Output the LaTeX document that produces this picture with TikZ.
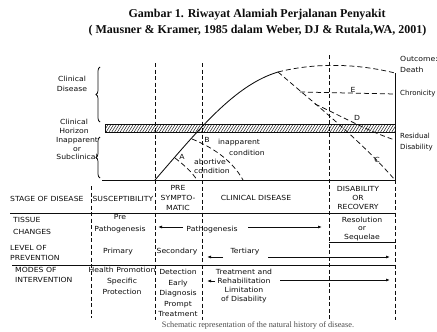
\documentclass[tikz,border=0pt]{standalone}
\usepackage{fontspec}
\setmainfont{Liberation Serif}
\newfontfamily\labfont[FakeStretch=1.1]{DejaVu Sans}
\newfontfamily\labfontn{DejaVu Sans}
\usetikzlibrary{arrows.meta,decorations.pathreplacing}
\definecolor{ink}{gray}{0.05}
\definecolor{capgray}{gray}{0.3}
\begin{document}
\begin{tikzpicture}[x=1pt,y=-1pt,
 lab/.style={font=\labfont\fontsize{7}{10}\selectfont, inner sep=0pt, align=center, text=ink},
 labl/.style={lab, anchor=west, align=left},
 vdash/.style={draw=ink, line width=0.75pt, dash pattern=on 4pt off 2.5pt},
 curvedash/.style={draw=ink, line width=0.75pt, dash pattern=on 5pt off 3pt},
 rule/.style={draw=ink, line width=0.9pt},
 curve/.style={draw=ink, line width=0.85pt},
 arr/.style={draw=ink, line width=0.75pt, -{Latex[length=4pt,width=3pt]}},
 brc/.style={draw=ink, line width=0.75pt, decorate, decoration={brace,amplitude=4pt}},
 titlefont/.style={font=\bfseries\fontsize{12}{15}\selectfont, inner sep=0pt, text=ink},
]
\useasboundingbox[fill=white] (0,0) rectangle (437,332);

% title
\node[titlefont] (t1) at (257,15) {Gambar 1. Riwayat Alamiah Perjalanan Penyakit};
\node[titlefont] (t2) at (257.5,31) {( Mausner \& Kramer, 1985 dalam Weber, DJ \& Rutala,WA, 2001)};

% left labels
\node[lab] (cd) at (72,84) {Clinical\\Disease};
\node[lab, font=\labfont\fontsize{7}{9}\selectfont] (ch) at (74,126.5) {Clinical\\Horizon};
\node[lab, font=\labfont\fontsize{7}{8.5}\selectfont] (is) at (77,148.5) {Inapparent\\or\\Subclinical};
\draw[brc] (100,122) -- (100,67);
\draw[brc] (100,178) -- (100,137);

% hatched horizon bar
\begin{scope}
\clip (105,124) rectangle (395,132);
\foreach \x in {95,97.8,...,400} \draw[ink, line width=0.45pt] (\x,132) -- (\x+5,124);
\end{scope}
\draw[ink, line width=0.6pt] (105,124) rectangle (395,132);

% vertical dashed lines
\draw[vdash] (155,63) -- (155,320);
\draw[vdash] (202,63) -- (202,320);
\draw[vdash] (329,55) -- (329,320);
\draw[vdash] (91,186) -- (91,318);
\draw[vdash] (395,180) -- (395,320);

% curves
\draw[curve] (155,180) .. controls (200,128) and (235,85) .. (278,72);
\draw[curvedash] (278,72) .. controls (310,64) and (350,62) .. (395,73);
\draw[curvedash] (278,72) .. controls (320,108) and (360,140) .. (395,180);
\draw[curvedash] (300,92) -- (395,94);
\draw[curvedash] (315,104) .. controls (345,118) and (370,132) .. (395,140);
\draw[curve] (395,73) -- (395,180);
\draw[curvedash] (175,158) .. controls (184,165) and (192,172) .. (197,180);
\draw[curvedash] (192,139) .. controls (212,147) and (232,160) .. (243,180);

% curve labels
\node[lab] (le) at (353,90) {E};
\node[lab] (ld) at (357,118) {D};
\node[lab] (lc) at (377,160) {C};
\node[lab] (lb) at (207,140) {B};
\node[lab] (la) at (182,157) {A};
\node[lab] (ia) at (239,143) {inapparent};
\node[lab] (ic) at (247,153) {condition};
\node[lab] (ab) at (210,162) {abortive};
\node[lab] (ac) at (212,171) {condition};

% right labels
\node[labl] (oc) at (400,59) {Outcome:};
\node[labl] (de) at (400,70) {Death};
\node[labl, font=\labfontn\fontsize{7}{10}\selectfont] (chr) at (400,94) {Chronicity};
\node[labl, font=\labfontn\fontsize{7}{11}\selectfont] (rd) at (400,142.5) {Residual\\Disability};

% horizontal rules
\draw[rule] (102,180) -- (395,180);
\draw[rule] (10,213) -- (395,213);
\draw[rule] (329,242) -- (395,242);
\draw[rule] (12,265) -- (395,265);

% row 1
\node[labl] (r1) at (10,199) {STAGE OF DISEASE};
\node[lab] (sus) at (123,199) {SUSCEPTIBILITY};
\node[lab] (pre) at (178,198) {PRE\\SYMPTO-\\MATIC};
\node[lab] (cli) at (256,198) {CLINICAL DISEASE};
\node[lab, font=\labfont\fontsize{7}{9}\selectfont] (dis) at (358,198) {DISABILITY\\OR\\RECOVERY};

% row 2
\node[labl, font=\labfont\fontsize{7}{12}\selectfont] (r2) at (13,226) {TISSUE\\CHANGES};
\node[lab, font=\labfont\fontsize{7}{12}\selectfont] (pp) at (120,224) {Pre\\Pathogenesis};
\node[lab] (pat) at (212,230) {Pathogenesis};
\node[lab, font=\labfont\fontsize{7}{8.5}\selectfont] (res) at (362,229) {Resolution\\or\\Sequelae};
\coordinate (a2l) at (158,227);
\coordinate (a2ls) at (183,227);
\coordinate (a2rs) at (248,227);
\coordinate (a2r) at (322,227);
\draw[arr] (a2ls) -- (a2l);
\draw[arr] (a2rs) -- (a2r);

% row 3
\node[labl] (r3) at (10,253) {LEVEL OF\\PREVENTION};
\node[lab] (pri) at (118,252) {Primary};
\node[lab] (sec) at (177,252) {Secondary};
\node[lab] (ter) at (245,252) {Tertiary};
\coordinate (a3l) at (207,257);
\coordinate (a3ls) at (223,257);
\coordinate (a3rs) at (268,257);
\coordinate (a3r) at (390,257);
\draw[arr] (a3ls) -- (a3l);
\draw[arr] (a3rs) -- (a3r);

% row 4
\node[labl] (r4) at (15,275) {MODES OF\\INTERVENTION};
\node[lab, font=\labfont\fontsize{7}{11}\selectfont] (hp) at (122,281) {Health Promotion\\Specific\\Protection};
\node[lab, font=\labfont\fontsize{7}{10.5}\selectfont] (det) at (178,293) {Detection\\Early\\Diagnosis\\Prompt\\Treatment};
\node[lab, font=\labfont\fontsize{7}{9}\selectfont] (trt) at (244,286.5) {Treatment and\\Rehabilitation\\Limitation\\of Disability};
\coordinate (a4l) at (207,281);
\coordinate (a4ls) at (215,281);
\coordinate (a4rs) at (280,280);
\coordinate (a4r) at (390,280);
\draw[arr] (a4ls) -- (a4l);
\draw[arr] (a4rs) -- (a4r);

% caption
\node[inner sep=0pt, font=\fontsize{8.3}{10}\selectfont, text=capgray] (cap) at (258,325) {Schematic representation of the natural history of disease.};
\end{tikzpicture}
\end{document}
